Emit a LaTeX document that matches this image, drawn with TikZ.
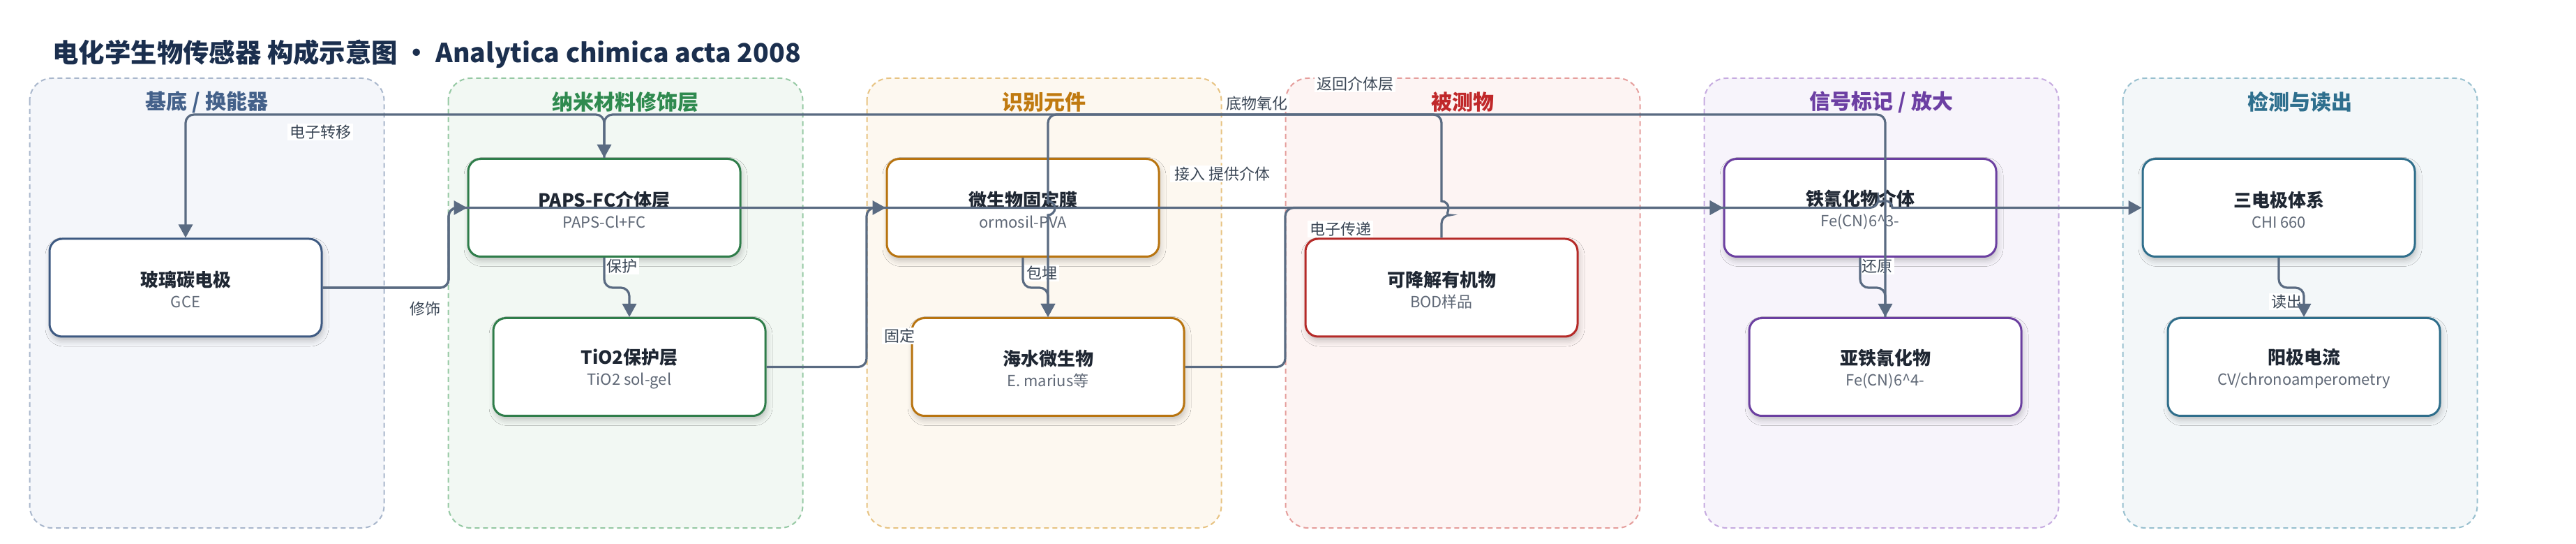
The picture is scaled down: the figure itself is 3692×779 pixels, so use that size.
\documentclass[tikz,border=0pt]{standalone}
\usepackage{fontspec}
\setmainfont{Noto Sans CJK SC}
\usetikzlibrary{arrows.meta,shadows.blur}
\definecolor{edgec}{HTML}{5A6B82}
\definecolor{titlec}{HTML}{1B2F4E}
\definecolor{ntc}{HTML}{1F2733}
\definecolor{nsc}{HTML}{5F6876}
\definecolor{lblc}{HTML}{3B4756}
% lane colours: fill, border, title, node border
\definecolor{fA}{HTML}{F4F6FA}\definecolor{bA}{HTML}{A9B7CC}\definecolor{tA}{HTML}{44618A}\definecolor{nA}{HTML}{3E5A82}
\definecolor{fB}{HTML}{F2F8F3}\definecolor{bB}{HTML}{96C9A4}\definecolor{tB}{HTML}{2F8A4F}\definecolor{nB}{HTML}{2F7D4A}
\definecolor{fC}{HTML}{FDF8F0}\definecolor{bC}{HTML}{E7C382}\definecolor{tC}{HTML}{C07A10}\definecolor{nC}{HTML}{B87410}
\definecolor{fD}{HTML}{FDF4F3}\definecolor{bD}{HTML}{E59E9C}\definecolor{tD}{HTML}{C0282A}\definecolor{nD}{HTML}{B52A28}
\definecolor{fE}{HTML}{F7F4FB}\definecolor{bE}{HTML}{C6ABE0}\definecolor{tE}{HTML}{6C3FA3}\definecolor{nE}{HTML}{6B3FA0}
\definecolor{fF}{HTML}{F3F7F9}\definecolor{bF}{HTML}{98C0CF}\definecolor{tF}{HTML}{2E6F8E}\definecolor{nF}{HTML}{2F6E8B}
\newcommand{\nttl}[1]{{\fontsize{13pt}{15pt}\selectfont\bfseries\color{ntc}\rule{0pt}{14pt}#1}}
\newcommand{\nsub}[1]{{\fontsize{11pt}{15pt}\selectfont\color{nsc}#1}}
\begin{document}
\begin{tikzpicture}[x=0.5pt,y=-0.5pt,
  lanebox/.style={line width=1pt,dash pattern=on 3.5pt off 2.5pt,rounded corners=16pt},
  lanetitle/.style={font=\fontsize{15pt}{18pt}\selectfont\bfseries,inner sep=0pt},
  box/.style={rectangle,rounded corners=9pt,line width=1.5pt,fill=white,
    minimum width=195pt,minimum height=70pt,align=center,inner sep=0pt,
    font=\fontsize{11pt}{15pt}\selectfont,
    blur shadow={shadow xshift=1pt,shadow yshift=-3pt,shadow blur radius=4pt,shadow opacity=22}},
  elabel/.style={fill=white,inner xsep=1.5pt,inner ysep=1pt,text=lblc,font=\fontsize{11pt}{13pt}\selectfont},
  edge/.style={draw=edgec,line width=1.6pt,rounded corners=6pt},
  tip/.style={-{Triangle[length=9.5pt,width=10pt]}}
]
\useasboundingbox (0,0) rectangle (3692,779);
% lanes
\path[lanebox,fill=fA,draw=bA] (42.5,112) rectangle (550.5,756);
\path[lanebox,fill=fB,draw=bB] (642.5,112) rectangle (1150.5,756);
\path[lanebox,fill=fC,draw=bC] (1242.5,112) rectangle (1750.5,756);
\path[lanebox,fill=fD,draw=bD] (1842.5,112) rectangle (2350.5,756);
\path[lanebox,fill=fE,draw=bE] (2442.5,112) rectangle (2950.5,756);
\path[lanebox,fill=fF,draw=bF] (3042.5,112) rectangle (3550.5,756);
\node[lanetitle,text=tA] (ltA) at (296.5,146) {基底 / 换能器};
\node[lanetitle,text=tB] (ltB) at (896.5,146) {纳米材料修饰层};
\node[lanetitle,text=tC] (ltC) at (1496.5,146) {识别元件};
\node[lanetitle,text=tD] (ltD) at (2096.5,146) {被测物};
\node[lanetitle,text=tE] (ltE) at (2696.5,146) {信号标记 / 放大};
\node[lanetitle,text=tF] (ltF) at (3296.5,146) {检测与读出};
% title
\node[anchor=west,inner sep=0pt,text=titlec,font=\fontsize{18.7pt}{22pt}\selectfont\bfseries] (title) at (75,77)
  {电化学生物传感器 构成示意图 · Analytica chimica acta 2008};
% nodes
\node[box,draw=nA] (gce)   at (266,412)    {\nttl{玻璃碳电极}\\\nsub{GCE}};
\node[box,draw=nB] (paps)  at (866,297.5)  {\nttl{PAPS-FC介体层}\\\nsub{PAPS-Cl+FC}};
\node[box,draw=nB] (tio)   at (902,525.5)  {\nttl{TiO2保护层}\\\nsub{TiO2 sol-gel}};
\node[box,draw=nC] (mem)   at (1466,297.5) {\nttl{微生物固定膜}\\\nsub{ormosil-PVA}};
\node[box,draw=nC] (mic)   at (1502,525.5) {\nttl{海水微生物}\\\nsub{E. marius等}};
\node[box,draw=nD] (bod)   at (2066,412)   {\nttl{可降解有机物}\\\nsub{BOD样品}};
\node[box,draw=nE] (ferri) at (2666,297.5) {\nttl{铁氰化物介体}\\\nsub{Fe(CN)6\^{}3-}};
\node[box,draw=nE] (ferro) at (2702,525.5) {\nttl{亚铁氰化物}\\\nsub{Fe(CN)6\^{}4-}};
\node[box,draw=nF] (cell)  at (3266,297.5) {\nttl{三电极体系}\\\nsub{CHI 660}};
\node[box,draw=nF] (cur)   at (3302,525.5) {\nttl{阳极电流}\\\nsub{CV/chronoamperometry}};
% edge labels
\node[elabel] (l1)  at (609,442)   {修饰};
\node[elabel] (l3)  at (891,381)   {保护};
\node[elabel] (l4)  at (1289,481)  {固定};
\node[elabel] (l5)  at (1493,391)  {包埋};
\node[elabel] (l6)  at (1801,148)  {底物氧化};
\node[elabel] (l7)  at (1921,328)  {电子传递};
\node[elabel] (l8)  at (1776,249)  {提供介体};
\node[elabel,inner xsep=3pt] (l2)  at (1705,249)  {接入};
\node[elabel] (l9)  at (2690,381)  {还原};
\node[elabel] (l10) at (1942,120)  {返回介体层};
\node[elabel] (l11) at (459,189)   {电子转移};
\node[elabel] (l12) at (3277,432)  {读出};
% edges
\draw[edge,tip] (gce.east) -- (643,412) -- (643,297.5) -- (paps.west);
\draw[edge,tip] (gce.east) -- (643,412) -- (643,297.5) -- (2692,297.5)
  [sharp corners] arc[start angle=180,end angle=0,radius=5pt] -- (cell.west);
\draw[edge,tip] (paps.south) -- (866,412) -- (902,412) -- (tio.north);
\draw[edge,tip] (tio.east) -- (1242,525.5) -- (1242,297.5) -- (mem.west);
\draw[edge,tip] (mem.south) -- (1466,412) -- (1502,412) -- (mic.north);
\draw[edge,tip] (bod.north) -- (2066,308) [sharp corners] arc[start angle=-90,end angle=90,radius=5pt]
  -- (2066,278) [rounded corners=6pt] -- (2066,164) -- (1502,164) -- (1502,280)
  [sharp corners] -- (1502,288) arc[start angle=90,end angle=-90,radius=5pt] -- (mic.north);
\draw[edge,tip] (mic.east) -- (1842,525.5) -- (1842,297.5) -- (ferri.west);
\draw[edge,tip] (paps.east) -- (ferri.west);
\draw[edge,tip] (ferri.south) -- (2666,412) -- (2702,412) -- (ferro.north);
\draw[edge,tip] (ferro.north) -- (2702,164) -- (866,164) -- (paps.north);
\draw[edge,tip] (paps.north) -- (866,164) -- (266,164) -- (gce.north);
\draw[edge,tip] (cell.south) -- (3266,412) -- (3302,412) -- (cur.north);
\end{tikzpicture}
\end{document}
